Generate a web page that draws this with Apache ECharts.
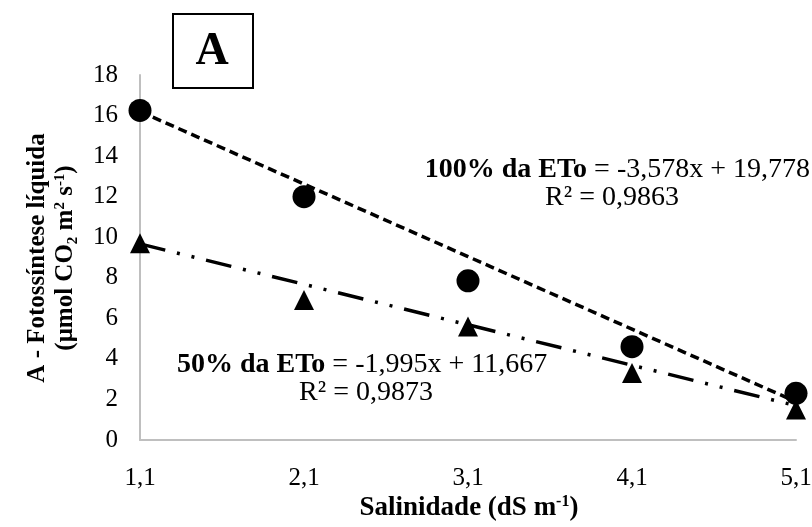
<!DOCTYPE html>
<html>
<head>
<meta charset="utf-8">
<script src="https://cdn.jsdelivr.net/npm/echarts@6/dist/echarts.min.js"></script>
<style>
  html, body { margin: 0; padding: 0; background: #fff; }
  #chart { width: 812px; height: 527px; }
</style>
</head>
<body>
<div id="chart"></div>
<script>
// dados
var salinidade = ['1,1', '2,1', '3,1', '4,1', '5,1'];
var eto100 = [16.25, 12.0, 7.85, 4.6, 2.3];
var eto50 = [9.7, 6.9, 5.6, 3.3, 1.5];
// linhas de tendência (equações do gráfico)
var tend100 = [16.2, 12.622, 9.044, 5.466, 1.888];
var tend50 = [9.672, 7.677, 5.682, 3.687, 1.692];
var yTicks = [0, 2, 4, 6, 8, 10, 12, 14, 16, 18];

var chart = echarts.init(document.getElementById('chart'));
var serif = 'Liberation Serif';

var option = {
  backgroundColor: '#fff',
  animation: false,
  grid: { left: 140, right: 16, top: 75, bottom: 87, outerBoundsMode: 'none' },
  xAxis: {
    type: 'category',
    data: salinidade,
    boundaryGap: false,
    axisLine: { lineStyle: { color: '#bfbfbf', width: 2 } },
    axisTick: { show: false },
    axisLabel: { fontFamily: serif, fontSize: 25, color: '#000', margin: 26 }
  },
  yAxis: {
    type: 'value',
    min: yTicks[0],
    max: yTicks[yTicks.length - 1],
    interval: 2,
    splitLine: { show: false },
    axisLine: { show: true, lineStyle: { color: '#bfbfbf', width: 2 } },
    axisTick: { show: false },
    axisLabel: { fontFamily: serif, fontSize: 25, color: '#000', margin: 22 }
  },
  graphic: [
    {
      type: 'rect', left: 172, top: 13,
      shape: { width: 80, height: 74 },
      style: { fill: '#fff', stroke: '#000', lineWidth: 2 }
    },
    {
      type: 'text', x: 212, y: 52,
      style: { text: 'A', font: 'bold 46px "Liberation Serif"', fill: '#000', align: 'center', verticalAlign: 'middle' }
    },
    // título do eixo x
    {
      type: 'text', x: 469, y: 508,
      style: {
        text: '{b|Salinidade (dS m}{sup|-1}{b|)}',
        align: 'center', verticalAlign: 'middle',
        rich: {
          b: { font: 'bold 27px "Liberation Serif"', fill: '#000' },
          sup: { font: 'bold 16px "Liberation Serif"', fill: '#000', padding: [0, 0, 12, 0] }
        }
      }
    },
    // título do eixo y
    {
      type: 'text', x: 38, y: 258, rotation: Math.PI / 2,
      style: {
        text: 'A - Fotossíntese líquida',
        font: 'bold 25px "Liberation Serif"', fill: '#000',
        align: 'center', verticalAlign: 'middle'
      }
    },
    {
      type: 'text', x: 66, y: 258, rotation: Math.PI / 2,
      style: {
        text: '{b|(μmol CO}{sub|2}{b| m}{sup|2}{b| s}{sup|-1}{b|)}',
        align: 'center', verticalAlign: 'middle',
        rich: {
          b: { font: 'bold 25px "Liberation Serif"', fill: '#000' },
          sub: { font: 'bold 15px "Liberation Serif"', fill: '#000', padding: [14, 0, 0, 0] },
          sup: { font: 'bold 15px "Liberation Serif"', fill: '#000', padding: [0, 0, 12, 0] }
        }
      }
    },
    {
      type: 'text', x: 810, y: 170,
      style: {
        text: '{b|100% da ETo}{n| = -3,578x + 19,778}',
        align: 'right', verticalAlign: 'middle',
        rich: {
          b: { font: 'bold 28px "Liberation Serif"', fill: '#000' },
          n: { font: '28px "Liberation Serif"', fill: '#000' }
        }
      }
    },
    {
      type: 'text', x: 612, y: 198,
      style: { text: 'R² = 0,9863', font: '28px "Liberation Serif"', fill: '#000', align: 'center', verticalAlign: 'middle' }
    },
    {
      type: 'text', x: 177, y: 365,
      style: {
        text: '{b|50% da ETo}{n| = -1,995x + 11,667}',
        align: 'left', verticalAlign: 'middle',
        rich: {
          b: { font: 'bold 28px "Liberation Serif"', fill: '#000' },
          n: { font: '28px "Liberation Serif"', fill: '#000' }
        }
      }
    },
    {
      type: 'text', x: 366, y: 393,
      style: { text: 'R² = 0,9873', font: '28px "Liberation Serif"', fill: '#000', align: 'center', verticalAlign: 'middle' }
    }
  ],
  series: [
    {
      name: 'tend100', type: 'line', data: tend100, symbol: 'none', z: 2,
      lineStyle: { color: '#000', width: 3.5, type: [9, 5] }
    },
    {
      name: 'tend50', type: 'line', data: tend50, symbol: 'none', z: 2,
      lineStyle: { color: '#000', width: 3.5, type: [26, 12, 3, 12, 3, 12] }
    },
    {
      name: '100% da ETo', type: 'scatter', data: eto100,
      symbol: 'circle', symbolSize: 23, z: 3,
      itemStyle: { color: '#000', opacity: 1 }
    },
    {
      name: '50% da ETo', type: 'scatter', data: eto50,
      symbol: 'triangle', symbolSize: 20, z: 3,
      itemStyle: { color: '#000', opacity: 1 }
    }
  ]
};

chart.setOption(option);
</script>
</body>
</html>
